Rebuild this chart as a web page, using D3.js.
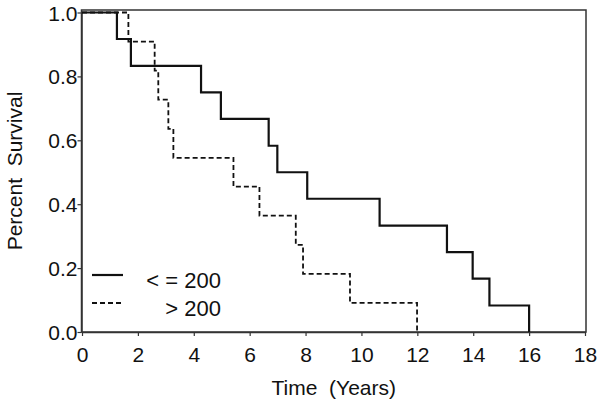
<!DOCTYPE html>
<html>
<head>
<meta charset="utf-8">
<script src="https://cdn.jsdelivr.net/npm/d3@7"></script>
<style>
  body { margin: 0; background: #fff; }
  svg { display: block; }
  text { font-family: "Liberation Sans", Arial, Helvetica, sans-serif; fill: #111; }
</style>
</head>
<body>
<svg id="chart" width="601" height="407"></svg>
<script>
// survival steps (time in years, survival after the drop)
const lowTimes = [1.25, 1.75, 4.26, 4.97, 6.68, 6.99, 8.06, 10.65, 13.06, 13.98, 14.58, 16.0];
const lowSurv  = [0.917, 0.833, 0.75, 0.667, 0.583, 0.5, 0.417, 0.333, 0.25, 0.167, 0.083, 0.0];

const highTimes = [1.66, 2.60, 2.73, 3.09, 3.27, 5.42, 6.35, 7.65, 7.91, 9.59, 11.99];
const highSurv  = [0.909, 0.818, 0.727, 0.636, 0.545, 0.455, 0.364, 0.273, 0.182, 0.091, 0.0];

const xTicks = [0, 2, 4, 6, 8, 10, 12, 14, 16, 18];
const yTicks = [0, 0.2, 0.4, 0.6, 0.8, 1.0];
const legendLabels = ["< = 200", "> 200"];

const svg = d3.select("#chart");

// plot frame
const plotL = 81.5, plotR = 586, plotT = 10, plotB = 332;

const x = d3.scaleLinear().domain([0, 18]).range([82, 585]);
const y = d3.scaleLinear().domain([0, 1]).range([plotB, 12.5]);

svg.append("rect")
  .attr("x", plotL).attr("y", plotT)
  .attr("width", plotR - plotL).attr("height", plotB - plotT)
  .attr("fill", "none")
  .attr("stroke", "#333")
  .attr("stroke-width", 1.5);

// axes
const xAxis = svg.append("g")
  .attr("transform", `translate(0,${plotB})`)
  .call(d3.axisBottom(x).tickValues(xTicks).tickFormat(d3.format("d")).tickSize(4).tickPadding(11).tickSizeOuter(0));

const yAxis = svg.append("g")
  .attr("transform", `translate(${plotL},0)`)
  .call(d3.axisLeft(y).tickValues(yTicks).tickFormat(d3.format(".1f")).tickSize(4).tickPadding(0).tickSizeOuter(0));

[xAxis, yAxis].forEach(g => {
  g.select(".domain").attr("stroke", "#333").attr("stroke-width", 1.5);
  g.selectAll(".tick line").attr("stroke", "#333").attr("stroke-width", 1.2);
  g.selectAll(".tick text").style("font-size", "21px").attr("fill", "#111");
});
yAxis.selectAll(".tick text").attr("dy", "0.36em");

// step curves
function steps(times, surv) {
  const pts = [[0, 1]];
  times.forEach((t, i) => pts.push([t, surv[i]]));
  return pts;
}

const line = d3.line()
  .x(d => x(d[0]))
  .y(d => y(d[1]))
  .curve(d3.curveStepAfter);

svg.append("path")
  .datum(steps(highTimes, highSurv))
  .attr("d", line)
  .attr("fill", "none")
  .attr("stroke", "#111")
  .attr("stroke-width", 1.8)
  .attr("stroke-dasharray", "5,3");

svg.append("path")
  .datum(steps(lowTimes, lowSurv))
  .attr("d", line)
  .attr("fill", "none")
  .attr("stroke", "#111")
  .attr("stroke-width", 2.2);

// legend
const legend = svg.append("g");
legendLabels.forEach((lab, i) => {
  const ly = 275 + i * 28;
  legend.append("line")
    .attr("x1", 92).attr("x2", 123)
    .attr("y1", ly).attr("y2", ly)
    .attr("stroke", "#111")
    .attr("stroke-width", i === 0 ? 2.2 : 1.8)
    .attr("stroke-dasharray", i === 0 ? null : "5,3");
  legend.append("text")
    .attr("x", 221).attr("y", ly + 13)
    .attr("text-anchor", "end")
    .style("font-size", "22px")
    .style("white-space", "pre")
    .text(lab);
});

// axis titles
svg.append("text")
  .attr("x", (plotL + plotR) / 2)
  .attr("y", 395)
  .attr("text-anchor", "middle")
  .style("font-size", "21px")
  .style("white-space", "pre")
  .text("Time  (Years)");

svg.append("text")
  .attr("transform", `translate(22,${(plotT + plotB) / 2}) rotate(-90)`)
  .attr("text-anchor", "middle")
  .style("font-size", "21px")
  .style("white-space", "pre")
  .text("Percent  Survival");
</script>
</body>
</html>
